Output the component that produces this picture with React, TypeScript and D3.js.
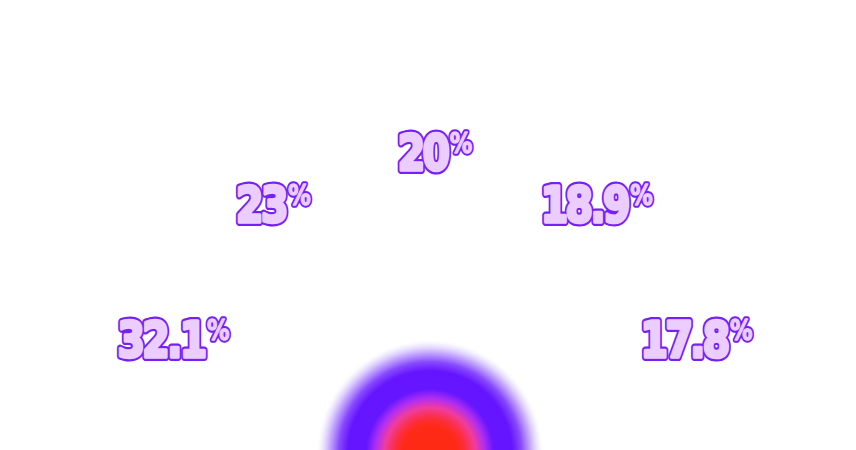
import React from "react";
import * as d3 from "d3";

const labels: string[] = ["32.1", "23", "20", "18.9", "17.8"];
const values: number[] = [32.1, 23, 20, 18.9, 17.8];
const suffix = "%";

const W = 856;
const H = 450;

const blobStops: { offset: number; color: string; opacity: number }[] = [
  { offset: 0, color: "#ff2a12", opacity: 1 },
  { offset: 0.24, color: "#ff2a16", opacity: 1 },
  { offset: 0.31, color: "#fc2e40", opacity: 1 },
  { offset: 0.4, color: "#f03c9e", opacity: 1 },
  { offset: 0.48, color: "#b02ef2", opacity: 1 },
  { offset: 0.56, color: "#6616ff", opacity: 1 },
  { offset: 0.72, color: "#6514ff", opacity: 1 },
  { offset: 0.8, color: "#6a1cff", opacity: 0.8 },
  { offset: 0.88, color: "#7a3cff", opacity: 0.45 },
  { offset: 0.95, color: "#a07cff", opacity: 0.15 },
  { offset: 1, color: "#ffffff", opacity: 0 },
];

export default function App() {
  const cx = 435;
  const cy = 440;
  const rx = 275;
  const ry = 270;
  const angle = d3
    .scaleBand<string>()
    .domain(labels)
    .range([-Math.PI / 2, Math.PI / 2])
    .padding(0);
  const pos = (l: string) => {
    const a = (angle(l) as number) + angle.bandwidth() / 2;
    return [cx + rx * Math.sin(a), cy - ry * Math.cos(a)];
  };

  const textProps = {
    textAnchor: "middle" as const,
    fontFamily: "'DejaVu Sans', sans-serif",
    fontWeight: "bold",
    strokeLinejoin: "round" as const,
    letterSpacing: -3,
  };

  const content = (l: string, outer: boolean) => [
    <tspan key="n" fontSize={49}>
      {l}
    </tspan>,
    <tspan
      key="p"
      fontSize={28}
      dy={-17}
      dx={3}
      strokeWidth={outer ? 5.5 : 1.4}
      letterSpacing={0}
    >
      {suffix}
    </tspan>,
  ];

  return (
    <svg
      width={W}
      height={H}
      style={{ position: "absolute", left: 0, top: 0, display: "block" }}
    >
      <defs>
        <radialGradient id="blob" cx="50%" cy="50%" r="50%">
          {blobStops.map((s, i) => (
            <stop key={i} offset={s.offset} stopColor={s.color} stopOpacity={s.opacity} />
          ))}
        </radialGradient>
      </defs>
      <rect width={W} height={H} fill="#ffffff" />
      <circle cx={430} cy={453} r={114} fill="url(#blob)" />
      {labels.map((l, i) => {
        const [x, y] = pos(l);
        return (
          <g key={l} transform={`translate(${x},${y}) scale(0.8,1)`} data-value={values[i]}>
            <text {...textProps} fill="#7420f7" stroke="#7420f7" strokeWidth={8}>
              {content(l, true)}
            </text>
            <text {...textProps} fill="#ebcdff" stroke="#ebcdff" strokeWidth={3.6}>
              {content(l, false)}
            </text>
          </g>
        );
      })}
    </svg>
  );
}
